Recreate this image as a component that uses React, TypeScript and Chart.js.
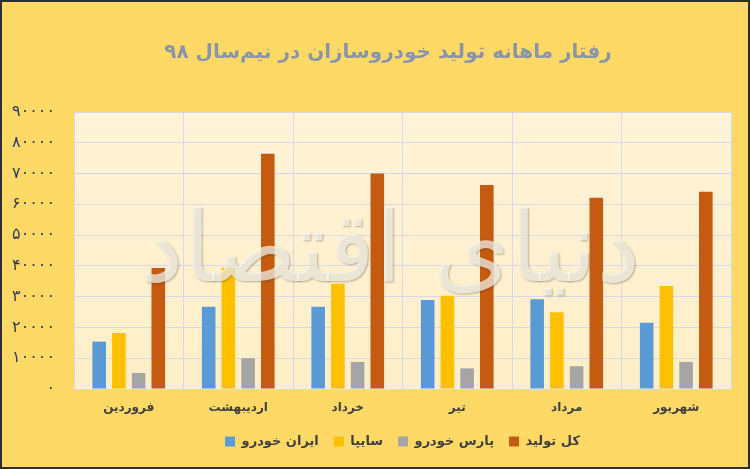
import React, { useEffect, useRef } from 'react';
import { Chart, registerables } from 'chart.js';

Chart.register(...registerables);

// months (left to right)
const categories = ['فروردین', 'اردیبهشت', 'خرداد', 'تیر', 'مرداد', 'شهریور'];
const seriesNames = ['ایران خودرو', 'سایپا', 'پارس خودرو', 'کل تولید'];
const iranKhodro = [15400, 26700, 26700, 28900, 29200, 21500];
const saipa = [18200, 39400, 34200, 30300, 24900, 33500];
const parsKhodro = [5200, 10000, 8800, 6700, 7400, 8800];
const totalProduction = [39300, 76400, 70000, 66300, 62100, 64100];
const seriesColors = ['#5B9BD5', '#FFC000', '#A5A5A5', '#C55A11'];
const chartTitle = 'رفتار ماهانه تولید خودروسازان در نیم‌سال ۹۸';

const faDigits = '۰۱۲۳۴۵۶۷۸۹';
const toFa = (v: number) => String(v).replace(/\d/g, (d) => faDigits[+d]);

const FONT = "'DejaVu Sans', sans-serif";

// cream plot background
const plotBg = {
  id: 'plotBg',
  beforeDraw(chart: any) {
    const { ctx, chartArea: a } = chart;
    const g = ctx.createLinearGradient(0, a.top, 0, a.bottom);
    g.addColorStop(0, '#FFF3D8');
    g.addColorStop(1, '#FEEFC8');
    ctx.save();
    ctx.fillStyle = g;
    ctx.fillRect(a.left, a.top, a.right - a.left, a.bottom - a.top);
    ctx.restore();
  },
};

// title sits a little right of the canvas centre, as in the original
const titlePlugin = {
  id: 'titleText',
  afterDraw(chart: any) {
    const { ctx } = chart;
    ctx.save();
    ctx.font = `bold 20px ${FONT}`;
    ctx.fillStyle = '#8B95A8';
    ctx.textAlign = 'center';
    ctx.textBaseline = 'middle';
    ctx.fillText(chartTitle, chart.width / 2 + 13, 51);
    ctx.restore();
  },
};

// "دنیای اقتصاد" watermark
const watermark = {
  id: 'watermark',
  afterDatasetsDraw(chart: any) {
    const { ctx } = chart;
    const text = 'دنیای اقتصاد';
    ctx.save();
    ctx.font = `100px ${FONT}`;
    const w = ctx.measureText(text).width;
    const size = Math.round(100 * 500 / w);
    ctx.font = `${size}px ${FONT}`;
    ctx.textAlign = 'center';
    ctx.textBaseline = 'middle';
    ctx.shadowColor = 'rgba(60,50,30,0.5)';
    ctx.shadowBlur = 2;
    ctx.shadowOffsetX = 1;
    ctx.shadowOffsetY = 1;
    ctx.fillStyle = 'rgba(255,252,242,0.7)';
    ctx.fillText(text, 388, 254);
    ctx.restore();
  },
};

const App = () => {
  const canvasRef = useRef<HTMLCanvasElement>(null);

  useEffect(() => {
    if (!canvasRef.current) return;
    const values = [iranKhodro, saipa, parsKhodro, totalProduction];
    const chart = new Chart(canvasRef.current, {
      type: 'bar',
      data: {
        labels: categories,
        datasets: seriesNames.map((name, i) => ({
          label: name,
          data: values[i],
          backgroundColor: seriesColors[i],
          borderWidth: 0,
          barPercentage: 0.69,
          categoryPercentage: 0.72,
        })),
      },
      options: {
        responsive: false,
        animation: false,
        layout: { padding: { top: 110, left: 0, right: 17, bottom: 9 } },
        scales: {
          x: {
            border: { display: false },
            grid: { color: '#D8D8EA', drawTicks: false, lineWidth: 1 },
            ticks: {
              padding: 12,
              color: '#404040',
              font: { family: FONT, size: 12, weight: 'bold' },
            },
            afterFit: (axis: any) => { axis.height = 31; },
          },
          y: {
            min: 0,
            max: 90000,
            border: { display: false },
            grid: { color: '#D8D8EA', drawTicks: false, lineWidth: 1 },
            ticks: {
              stepSize: 10000,
              padding: 19,
              color: '#2F3A5E',
              font: { family: FONT, size: 16 },
              callback: (v: any) => toFa(v),
            },
            afterFit: (axis: any) => { axis.width = 72; },
          },
        },
        plugins: {
          title: { display: false },
          legend: {
            position: 'bottom',
            fullSize: false,
            labels: {
              boxWidth: 10,
              boxHeight: 10,
              color: '#404040',
              font: { family: FONT, size: 13, weight: 'bold' },
              padding: 15,
            },
          },
          tooltip: { enabled: false },
        },
      },
      plugins: [plotBg, watermark, titlePlugin],
    });
    return () => chart.destroy();
  }, []);

  return (
    <div
      style={{
        position: 'absolute',
        left: 0,
        top: 0,
        width: 750,
        height: 469,
        boxSizing: 'border-box',
        border: '2px solid #2E2E2E',
        background: '#FFD966',
      }}
    >
      <canvas ref={canvasRef} width={746} height={465} style={{ display: 'block' }} />
    </div>
  );
};

export default App;
